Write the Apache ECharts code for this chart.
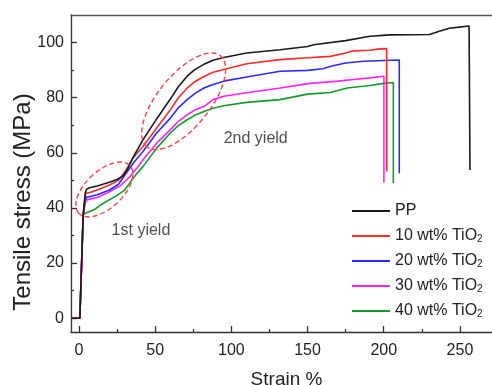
<!DOCTYPE html>
<html>
<head>
<meta charset="utf-8">
<script src="https://cdn.jsdelivr.net/npm/echarts@6/dist/echarts.min.js"></script>
<style>
  html, body { margin: 0; padding: 0; background: #fff; }
  #chart { width: 492px; height: 385px; }
</style>
</head>
<body>
<div id="chart"></div>
<script>
// stress-strain curves, [strain %, stress MPa]
const seriesNames = ['PP', '10 wt% TiO2', '20 wt% TiO2', '30 wt% TiO2', '40 wt% TiO2'];

const ppCurve = [
  [-5, 0], [0.6, 0], [2.8, 37.5], [4.2, 45.5], [5, 46.8], [7, 47.3], [12, 48], [20, 49.3],
  [25, 50.3], [29, 51.6], [32, 54.3], [35, 57.8], [42, 64.7], [51, 72.3], [60, 79.5],
  [65, 83.8], [71, 87.8], [76, 90.2], [82, 92.1], [88, 93.6], [95, 94.6], [110, 96.2],
  [132, 97.4], [150, 98.6], [154, 99.2], [175, 100.7], [191, 102.3], [204, 102.8],
  [230, 102.9], [236, 104], [243, 105.2], [248, 105.5], [256, 106], [256.6, 53.8]
];
const tio10Curve = [
  [-5, 0], [0.6, 0], [2.8, 37.5], [3.8, 43], [4.4, 45.3], [7, 45.6], [12, 46.5], [20, 48.3],
  [26, 50], [31, 53.8], [36, 58.5], [42, 62.3], [51, 69], [60, 75.6], [65, 79.8], [71, 83.5],
  [76, 85.8], [82, 87.7], [88, 89.2], [95, 90.2], [110, 92.3], [132, 93.8], [150, 94.5],
  [165, 95], [175, 96.2], [180, 97], [191, 97.2], [197, 97.7], [201.9, 97.8], [201.9, 53.2]
];
const tio20Curve = [
  [-5, 0], [0.6, 0], [2.8, 37.5], [4, 42.5], [5, 44], [7, 44.1], [12, 44.8], [20, 46.5],
  [26, 48.6], [31, 52.6], [36, 56.5], [42, 60.5], [51, 67.2], [60, 72.6], [65, 76.2],
  [71, 79.3], [76, 81.5], [82, 83.5], [88, 84.8], [95, 86], [110, 87.5], [132, 89.6],
  [150, 89.9], [160, 90.5], [166, 91.5], [175, 92.6], [187, 93.2], [200, 93.5], [210.2, 93.7],
  [210.2, 52.6]
];
const tio30Curve = [
  [-5, 0], [0.6, 0], [2.8, 37.5], [4, 41.5], [5, 43], [7, 43.2], [12, 43.8], [20, 45.9],
  [27, 48], [33.5, 51.4], [38, 54.5], [42, 57.5], [51, 63.5], [60, 68.4], [65, 71.3],
  [71, 73.8], [76, 75.5], [82, 76.8], [88, 79.3], [95, 80.5], [110, 81.8], [132, 83.5],
  [150, 85.1], [170, 86], [180, 86.6], [191, 87.2], [200.1, 87.8], [200.1, 49.2]
];
const tio40Curve = [
  [-5, 0], [0.6, 0], [2.8, 37.5], [5, 38.3], [10.5, 39.5], [14, 41], [20, 43], [24, 44.2],
  [30, 46.5], [34.6, 50], [38, 52.5], [42, 55], [51, 61.7], [60, 67.2], [65, 69.8], [71, 72],
  [76, 73.6], [82, 75], [88, 76.2], [95, 77.1], [110, 78.3], [132, 79.3], [150, 81.3],
  [165, 81.9], [176, 83.5], [191, 84.4], [200, 85.2], [206.3, 85.5], [206.3, 49]
];
const curves = [ppCurve, tio10Curve, tio20Curve, tio30Curve, tio40Curve];
const colors = ['#1a1a1a', '#ff2b2b', '#2b2bff', '#ff22ff', '#149a2a'];

const xMajorTicks = [0, 50, 100, 150, 200, 250];
const xMinorTicks = [25, 75, 125, 175, 225];
const yMajorTicks = [0, 20, 40, 60, 80, 100];
const yMinorTicks = [10, 30, 50, 70, 90];

// yield annotations: ellipse centres and text positions in data units
const yieldEllipseCenters = [[16.7, 46.7], [68.7, 78.7]];
const yieldLabels = ['1st yield', '2nd yield'];
const yieldLabelPos = [[40.7, 31.8], [116, 65.1]];

const ellipseShapes = [
  { rx: 35, ry: 18.5, rot: 43 },
  { rx: 58.5, ry: 26, rot: 51 }
];

const font = "'Liberation Sans', Arial, sans-serif";
const axisColor = '#333';
const chart = echarts.init(document.getElementById('chart'), null, { renderer: 'canvas' });

const xRange = { min: -5.2, max: 277.6 };
const yRange = { min: -5, max: 110 };

// bare value axis; the pieces that should show are switched on per axis
function bareAxis(extra) {
  return Object.assign({
    type: 'value',
    splitLine: { show: false },
    axisLine: { show: false, onZero: false },
    axisLabel: { show: false },
    axisTick: { show: false }
  }, extra);
}

function tickOnly(range, position, values, length) {
  return bareAxis({
    ...range,
    position: position,
    axisTick: { show: true, inside: true, length: length, customValues: values, lineStyle: { color: axisColor, width: 1.3 } }
  });
}

const option = {
  animation: false,
  grid: { left: 71, right: -10, top: 15, bottom: 53, outerBoundsMode: 'none', containLabel: false },
  legend: {
    data: seriesNames,
    orient: 'vertical',
    left: 352,
    top: 203,
    padding: 0,
    itemWidth: 38,
    itemHeight: 2,
    itemGap: 9,
    icon: 'rect',
    formatter: (name) => name.replace('TiO2', 'TiO{sub|2}'),
    textStyle: {
      fontFamily: font,
      fontSize: 16,
      lineHeight: 16,
      color: '#222',
      rich: {
        sub: { fontFamily: font, fontSize: 10, lineHeight: 4, verticalAlign: 'bottom', color: '#222' }
      }
    }
  },
  xAxis: [
    bareAxis({
      ...xRange,
      position: 'bottom',
      name: 'Strain %',
      nameLocation: 'middle',
      nameGap: 38,
      nameTextStyle: { fontFamily: font, fontSize: 19, color: '#222' },
      axisLine: { show: true, onZero: false, lineStyle: { color: axisColor, width: 1.3 } },
      axisLabel: { show: true, customValues: xMajorTicks, margin: 11, fontFamily: font, fontSize: 16, color: '#222' }
    }),
    tickOnly(xRange, 'bottom', xMajorTicks, 6),
    tickOnly(xRange, 'bottom', xMinorTicks, 3),
    bareAxis({
      ...xRange,
      position: 'top',
      axisLine: { show: true, onZero: false, lineStyle: { color: '#555', width: 1.3 } }
    })
  ],
  yAxis: [
    bareAxis({
      ...yRange,
      position: 'left',
      name: 'Tensile stress (MPa)',
      nameLocation: 'middle',
      nameMoveOverlap: false,
      nameGap: 36,
      nameTextStyle: { fontFamily: font, fontSize: 24, color: '#222', padding: [0, 57, 0, 0] },
      axisLine: { show: true, onZero: false, lineStyle: { color: axisColor, width: 1.3 } },
      axisLabel: { show: true, customValues: yMajorTicks, margin: 7, fontFamily: font, fontSize: 16, color: '#222' }
    }),
    tickOnly(yRange, 'left', yMajorTicks, 6),
    tickOnly(yRange, 'left', yMinorTicks, 3)
  ],
  series: [
    ...curves.map((data, i) => ({
      name: seriesNames[i],
      type: 'line',
      data: data,
      showSymbol: false,
      symbol: 'none',
      color: colors[i],
      lineStyle: { width: 1.6, color: colors[i] },
      z: 10 - i
    })),
    {
      type: 'custom',
      name: 'yield regions',
      data: yieldEllipseCenters,
      silent: true,
      z: 20,
      renderItem: (params, api) => {
        const c = api.coord([api.value(0), api.value(1)]);
        const s = ellipseShapes[params.dataIndex];
        return {
          type: 'ellipse',
          x: c[0],
          y: c[1],
          rotation: s.rot * Math.PI / 180,
          shape: { cx: 0, cy: 0, rx: s.rx, ry: s.ry },
          style: { fill: 'none', stroke: '#ff4040', lineWidth: 1.4, lineDash: [5, 3] }
        };
      }
    },
    {
      type: 'scatter',
      name: 'yield labels',
      symbolSize: 0,
      silent: true,
      data: yieldLabelPos.map((p, i) => ({ value: p, name: yieldLabels[i] })),
      label: {
        show: true,
        position: 'inside',
        formatter: '{b}',
        fontFamily: font,
        fontSize: 16,
        color: '#222'
      }
    }
  ]
};

chart.setOption(option);
</script>
</body>
</html>
